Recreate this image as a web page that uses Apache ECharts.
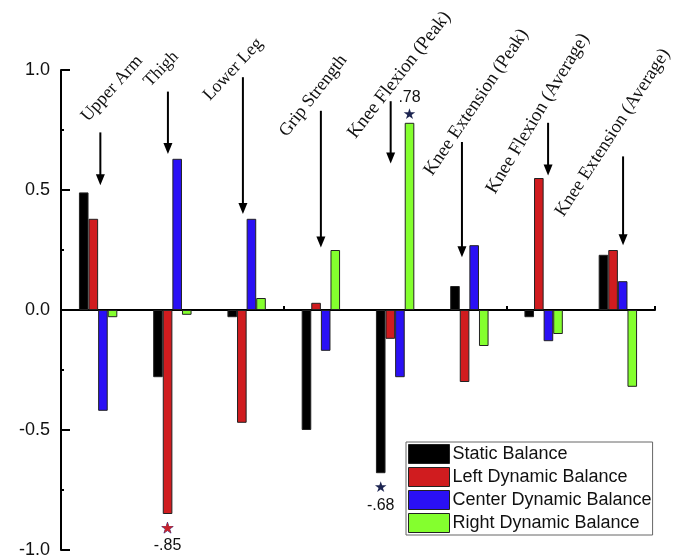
<!DOCTYPE html>
<html>
<head>
<meta charset="utf-8">
<script src="https://cdn.jsdelivr.net/npm/echarts@6/dist/echarts.min.js"></script>
<style>html,body{margin:0;padding:0;background:#fff;}#c{width:684px;height:560px;}</style>
</head>
<body>
<div id="c"></div>
<script>
// ---- data ----
const categories = ['Upper Arm', 'Thigh', 'Lower Leg', 'Grip Strength', 'Knee Flexion (Peak)', 'Knee Extension (Peak)', 'Knee Flexion (Average)', 'Knee Extension (Average)'];
const seriesNames = ['Static Balance', 'Left Dynamic Balance', 'Center Dynamic Balance', 'Right Dynamic Balance'];
const staticBalance = [0.49, -0.28, -0.03, -0.50, -0.68, 0.10, -0.03, 0.23];
const leftDynamic   = [0.38, -0.85, -0.47, 0.03, -0.12, -0.30, 0.55, 0.25];
const centerDynamic = [-0.42, 0.63, 0.38, -0.17, -0.28, 0.27, -0.13, 0.12];
const rightDynamic  = [-0.03, -0.02, 0.05, 0.25, 0.78, -0.15, -0.10, -0.32];
const yTicks = [-1.0, -0.5, 0.0, 0.5, 1.0];
// starred values: [series index, category index, label]
const starred = [[1, 1, '-.85'], [0, 4, '-.68'], [3, 4, '.78']];

// ---- annotation layout (category-unit x, value-unit y, degrees, px) ----
const arrowX    = [0.53, 1.44, 2.45, 3.50, 4.44, 5.40, 6.56, 7.57];
const arrowTop  = [0.74, 0.91, 0.97, 0.83, 0.87, 0.70, 0.78, 0.64];
const arrowTip  = [0.52, 0.65, 0.40, 0.26, 0.61, 0.22, 0.56, 0.27];
const labelX    = [0.405, 1.241, 2.045, 3.085, 4.015, 5.05, 5.896, 6.819];
const labelY    = [0.770, 0.915, 0.857, 0.7075, 0.70, 0.546, 0.471, 0.375];
const labelRot  = [48, 46, 47, 52, 52, 56, 59, 57];
const labelSize = [18, 17.5, 17.8, 18, 18.8, 18.7, 19, 18.5];

const colors = ['#000000', '#d01c1f', '#2a10f5', '#84ff2e'];
const allValues = [staticBalance, leftDynamic, centerDynamic, rightDynamic];

function buildData(si) {
  return allValues[si].map((v, ci) => {
    const s = starred.find(p => p[0] === si && p[1] === ci);
    if (!s) return v;
    const up = v > 0;
    return {
      value: v,
      label: {
        show: true,
        position: up ? 'top' : 'bottom',
        distance: up ? 0 : 7,
        formatter: up ? '{t|' + s[2] + '}\n{s|★}' : '{s|★}\n{t|' + s[2] + '}',
        rich: {
          s: { fontSize: 15, lineHeight: 16, color: si === 1 ? '#c8202a' : '#1c2450', textBorderColor: si === 1 ? '#3a3f8a' : 'transparent', textBorderWidth: si === 1 ? 0.8 : 0, fontFamily: 'DejaVu Sans' },
          t: { fontSize: 16, lineHeight: 18, color: '#111', fontFamily: 'Liberation Sans' }
        }
      }
    };
  });
}

const chart = echarts.init(document.getElementById('c'), null, { renderer: 'canvas' });

const barSeries = seriesNames.map((name, si) => ({
  name: name,
  type: 'bar',
  xAxisIndex: 0,
  yAxisIndex: 0,
  barWidth: 9.6,
  barGap: '0%',
  itemStyle: { color: colors[si], borderColor: '#222', borderWidth: 1 },
  data: buildData(si),
  z: 2
}));

const annotationSeries = {
  type: 'custom',
  xAxisIndex: 1,
  yAxisIndex: 0,
  clip: false,
  silent: true,
  z: 5,
  data: categories.map((c, i) => [i]),
  renderItem: function (params, api) {
    const i = params.dataIndex;
    const top = api.coord([arrowX[i], arrowTop[i]]);
    const tip = api.coord([arrowX[i], arrowTip[i]]);
    const lab = api.coord([labelX[i], labelY[i]]);
    const headLen = 11, headHalf = 4.5;
    return {
      type: 'group',
      children: [
        { type: 'line', shape: { x1: top[0], y1: top[1], x2: tip[0], y2: tip[1] - headLen + 1 }, style: { stroke: '#000', lineWidth: 2 } },
        { type: 'polygon', shape: { points: [[tip[0] - headHalf, tip[1] - headLen], [tip[0] + headHalf, tip[1] - headLen], [tip[0], tip[1]]] }, style: { fill: '#000' } },
        { type: 'text', x: lab[0], y: lab[1], rotation: labelRot[i] * Math.PI / 180,
          style: { text: categories[i], font: labelSize[i] + 'px "Liberation Serif"', fill: '#111', align: 'left', verticalAlign: 'bottom' } }
      ]
    };
  }
};

chart.setOption({
  animation: false,
  backgroundColor: '#fff',
  grid: { left: 61, right: 29, top: 70, bottom: 10, containLabel: false },
  legend: {
    data: seriesNames,
    orient: 'vertical',
    left: 406,
    top: 442,
    icon: 'rect',
    itemWidth: 41,
    itemHeight: 19,
    itemGap: 3,
    padding: [2, 1, 2, 2],
    borderColor: '#666',
    borderWidth: 1,
    textStyle: { fontFamily: 'Liberation Sans', fontSize: 18, color: '#111', padding: [0, 0, 0, -2] },
    itemStyle: { borderColor: '#222', borderWidth: 1 }
  },
  xAxis: [
    {
      type: 'category',
      data: categories,
      boundaryGap: true,
      axisLine: { onZero: true, lineStyle: { color: '#000', width: 2 } },
      axisTick: { show: true, inside: true, length: 4, lineStyle: { width: 2, color: '#000' } },
      axisLabel: { show: false },
      splitLine: { show: false }
    },
    { type: 'value', min: 0, max: 8, show: false }
  ],
  yAxis: {
    type: 'value',
    min: yTicks[0],
    max: yTicks[yTicks.length - 1],
    interval: 0.5,
    axisLine: { show: true, onZero: false, lineStyle: { color: '#000', width: 2 } },
    axisTick: { show: true, inside: true, length: 9, lineStyle: { width: 2, color: '#000' } },
    minorTick: { show: true, splitNumber: 2, length: 3, lineStyle: { width: 2, color: '#000' } },
    axisLabel: { fontFamily: 'Liberation Sans', fontSize: 18, color: '#111', margin: 11, formatter: v => v.toFixed(1) },
    splitLine: { show: false }
  },
  series: barSeries.concat([annotationSeries])
});
</script>
</body>
</html>
